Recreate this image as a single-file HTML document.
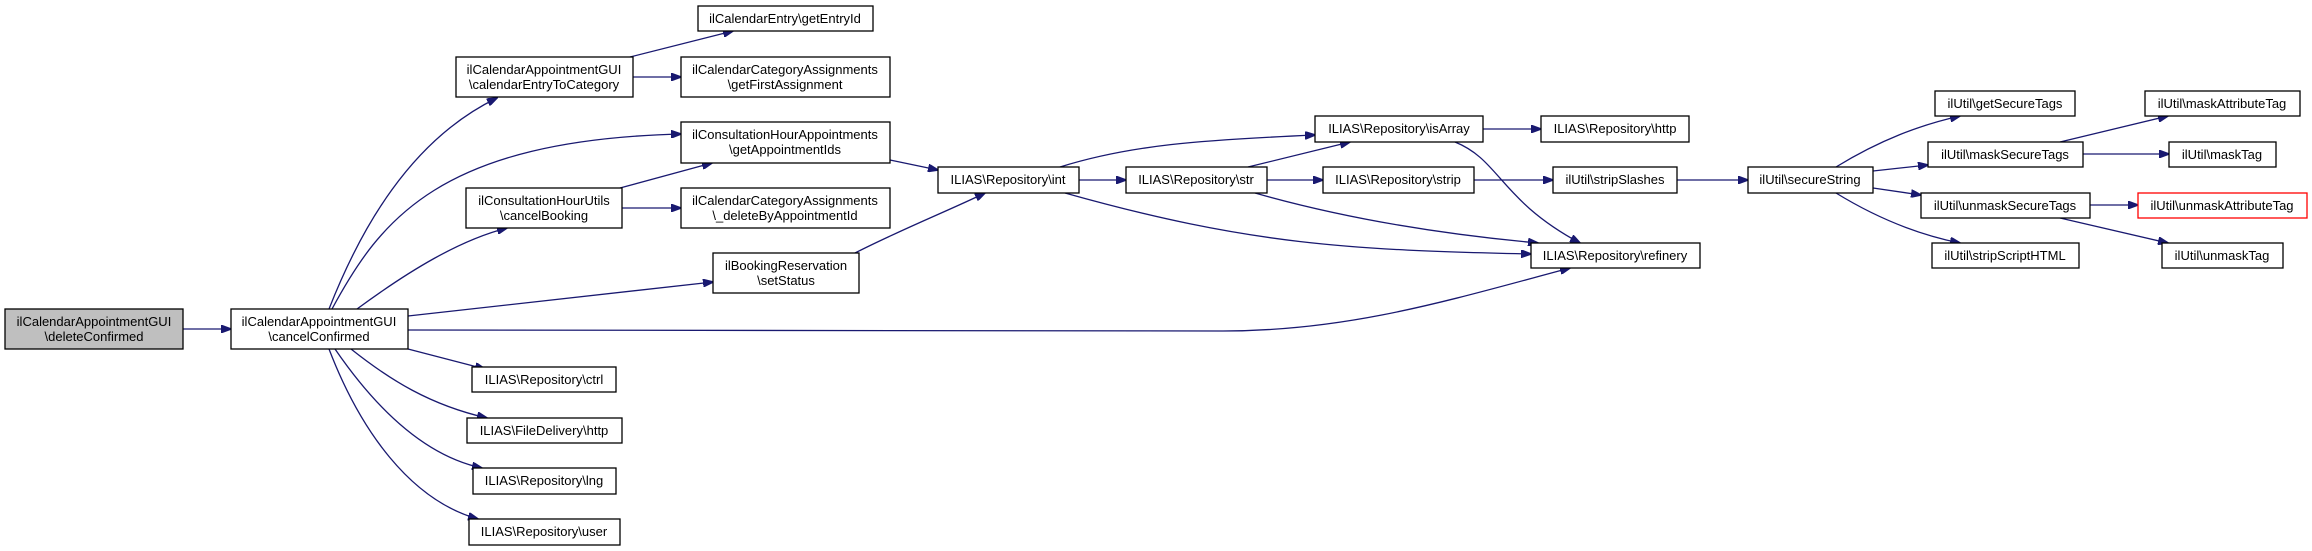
<!DOCTYPE html>
<html><head><meta charset="utf-8"><style>
html,body{margin:0;padding:0;background:#fff;}
svg{display:block;}
text{font-family:"Liberation Sans",Arial,sans-serif;font-size:13px;fill:#000;text-anchor:middle;}
rect{fill:#fff;stroke:#000;stroke-width:1.3;}
path{fill:none;stroke:#191970;stroke-width:1.3;}
</style></head><body>
<svg width="2312" height="551" viewBox="0 0 2312 551" xmlns="http://www.w3.org/2000/svg">
<defs><marker id="a" markerWidth="11" markerHeight="8" refX="10" refY="4" orient="auto" markerUnits="userSpaceOnUse"><path d="M0,0 L11,4 L0,8 Z" style="fill:#191970;stroke:#191970;stroke-width:1"/></marker></defs>
<g marker-end="url(#a)">
<path d="M183,329 L231,329"/>
<path d="M329,309 C360,230 410,140 497,98"/>
<path d="M332,309 C380,220 440,140 681,134"/>
<path d="M357,309 C410,270 460,240 507,228"/>
<path d="M408,316 L713,282"/>
<path d="M408,330 L1223,331 C1350,331 1450,300 1570,268"/>
<path d="M408,349 L485,369"/>
<path d="M351,349 C390,380 430,405 487,418"/>
<path d="M335,349 C370,400 420,455 482,468"/>
<path d="M329,349 C360,430 410,500 478,519"/>
<path d="M630,57 L733,31"/>
<path d="M633,77 L681,77"/>
<path d="M620,188 L712,163"/>
<path d="M622,208 L681,208"/>
<path d="M890,160 L938,170"/>
<path d="M855,253 C900,230 950,210 985,193"/>
<path d="M1079,180 L1126,180"/>
<path d="M1060,167 C1130,145 1200,140 1315,135"/>
<path d="M1065,193 C1250,245 1350,250 1531,254"/>
<path d="M1248,167 L1350,142"/>
<path d="M1267,180 L1323,180"/>
<path d="M1255,193 C1350,220 1450,235 1538,243"/>
<path d="M1483,129 L1541,129"/>
<path d="M1455,142 C1500,160 1500,200 1580,243"/>
<path d="M1474,180 L1553,180"/>
<path d="M1677,180 L1748,180"/>
<path d="M1836,167 C1880,140 1920,125 1960,116"/>
<path d="M1873,171 L1928,165"/>
<path d="M1873,188 L1921,195"/>
<path d="M1836,193 C1880,220 1920,235 1960,243"/>
<path d="M2060,142 L2168,116"/>
<path d="M2083,154 L2169,154"/>
<path d="M2090,205 L2138,205"/>
<path d="M2060,218 L2168,243"/>
</g>
<rect x="5" y="309" width="178" height="40" style="fill:#bfbfbf"/><text x="94" y="326">ilCalendarAppointmentGUI</text><text x="94" y="341">\deleteConfirmed</text>
<rect x="231" y="309" width="177" height="40"/><text x="319" y="326">ilCalendarAppointmentGUI</text><text x="319" y="341">\cancelConfirmed</text>
<rect x="456" y="57" width="177" height="40"/><text x="544" y="74">ilCalendarAppointmentGUI</text><text x="544" y="89">\calendarEntryToCategory</text>
<rect x="698" y="6" width="175" height="25"/><text x="785" y="23">ilCalendarEntry\getEntryId</text>
<rect x="681" y="57" width="209" height="40"/><text x="785" y="74">ilCalendarCategoryAssignments</text><text x="785" y="89">\getFirstAssignment</text>
<rect x="681" y="122" width="209" height="41"/><text x="785" y="139">ilConsultationHourAppointments</text><text x="785" y="154">\getAppointmentIds</text>
<rect x="466" y="188" width="156" height="40"/><text x="544" y="205">ilConsultationHourUtils</text><text x="544" y="220">\cancelBooking</text>
<rect x="681" y="188" width="209" height="40"/><text x="785" y="205">ilCalendarCategoryAssignments</text><text x="785" y="220">\_deleteByAppointmentId</text>
<rect x="713" y="253" width="146" height="40"/><text x="786" y="270">ilBookingReservation</text><text x="786" y="285">\setStatus</text>
<rect x="472" y="367" width="144" height="25"/><text x="544" y="384">ILIAS\Repository\ctrl</text>
<rect x="467" y="418" width="155" height="25"/><text x="544" y="435">ILIAS\FileDelivery\http</text>
<rect x="473" y="468" width="143" height="26"/><text x="544" y="485">ILIAS\Repository\lng</text>
<rect x="469" y="519" width="151" height="26"/><text x="544" y="536">ILIAS\Repository\user</text>
<rect x="938" y="167" width="141" height="26"/><text x="1008" y="184">ILIAS\Repository\int</text>
<rect x="1126" y="167" width="141" height="26"/><text x="1196" y="184">ILIAS\Repository\str</text>
<rect x="1315" y="116" width="168" height="26"/><text x="1399" y="133">ILIAS\Repository\isArray</text>
<rect x="1323" y="167" width="151" height="26"/><text x="1398" y="184">ILIAS\Repository\strip</text>
<rect x="1531" y="243" width="169" height="25"/><text x="1615" y="260">ILIAS\Repository\refinery</text>
<rect x="1541" y="116" width="148" height="26"/><text x="1615" y="133">ILIAS\Repository\http</text>
<rect x="1553" y="167" width="124" height="26"/><text x="1615" y="184">ilUtil\stripSlashes</text>
<rect x="1748" y="167" width="125" height="26"/><text x="1810" y="184">ilUtil\secureString</text>
<rect x="1935" y="91" width="140" height="25"/><text x="2005" y="108">ilUtil\getSecureTags</text>
<rect x="1928" y="142" width="155" height="25"/><text x="2005" y="159">ilUtil\maskSecureTags</text>
<rect x="1921" y="193" width="169" height="25"/><text x="2005" y="210">ilUtil\unmaskSecureTags</text>
<rect x="1932" y="243" width="147" height="25"/><text x="2005" y="260">ilUtil\stripScriptHTML</text>
<rect x="2145" y="91" width="155" height="25"/><text x="2222" y="108">ilUtil\maskAttributeTag</text>
<rect x="2169" y="142" width="107" height="25"/><text x="2222" y="159">ilUtil\maskTag</text>
<rect x="2138" y="193" width="169" height="25" style="stroke:#ff0000"/><text x="2222" y="210">ilUtil\unmaskAttributeTag</text>
<rect x="2162" y="243" width="121" height="25"/><text x="2222" y="260">ilUtil\unmaskTag</text>
</svg>
</body></html>
